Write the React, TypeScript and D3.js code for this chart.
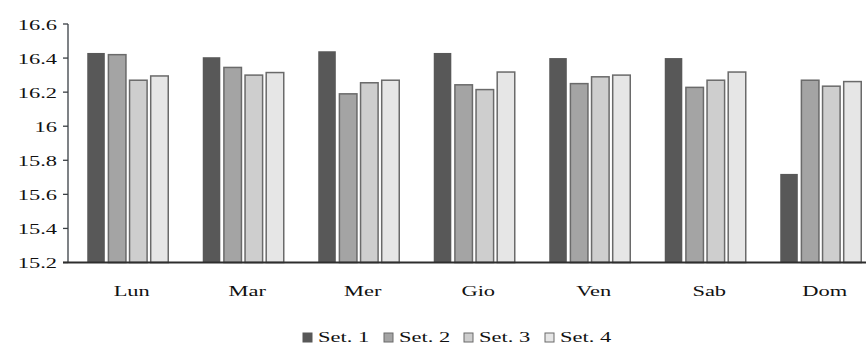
import React from "react";
import * as d3 from "d3";

const days = ["Lun", "Mar", "Mer", "Gio", "Ven", "Sab", "Dom"];
const seriesNames = ["Set. 1", "Set. 2", "Set. 3", "Set. 4"];
const set1 = [16.43, 16.405, 16.44, 16.43, 16.40, 16.40, 15.72];
const set2 = [16.42, 16.345, 16.19, 16.243, 16.25, 16.228, 16.27];
const set3 = [16.27, 16.30, 16.255, 16.215, 16.29, 16.27, 16.235];
const set4 = [16.295, 16.315, 16.27, 16.318, 16.30, 16.318, 16.262];
const yTicks = [15.2, 15.4, 15.6, 15.8, 16, 16.2, 16.4, 16.6];

const seriesValues = [set1, set2, set3, set4];
const fills = ["#585858", "#a4a4a4", "#cecece", "#e6e6e6"];
const strokes = ["none", "#6a6a6a", "#6a6a6a", "#6a6a6a"];

const W = 866;
const H = 347;
const FONT = "'Liberation Serif', 'Times New Roman', serif";
const SX = 1.45;

export default function App() {
  const axisX = 68;
  const x = d3.scaleBand<string>().domain(days).range([70, 70 + 7 * 115.5]);
  const groupW = 81;
  const inner = d3
    .scaleBand<number>()
    .domain([0, 1, 2, 3])
    .range([0, groupW])
    .paddingInner(0.17);
  const y = d3.scaleLinear().domain([15.2, 16.6]).range([262.5, 24]);
  const baseY = y(15.2);

  const legendX = [303, 384, 464, 545];

  return (
    <svg
      width={W}
      height={H}
      style={{ position: "absolute", left: 0, top: 0, background: "#fff" }}
      fontFamily={FONT}
    >
      {/* bars */}
      {days.map((d, i) => {
        const gx = (x(d) as number) + (x.bandwidth() - groupW) / 2;
        return (
          <g key={d}>
            {seriesValues.map((vals, s) => {
              const v = vals[i];
              const yy = y(v);
              return (
                <rect
                  key={s}
                  x={gx + (inner(s) as number)}
                  y={yy}
                  width={inner.bandwidth()}
                  height={baseY - yy}
                  fill={fills[s]}
                  stroke={strokes[s]}
                  strokeWidth={1.5}
                />
              );
            })}
          </g>
        );
      })}

      {/* y axis */}
      <line x1={axisX} x2={axisX} y1={y(16.6)} y2={baseY} stroke="#3a3f44" strokeWidth={1.3} />
      {yTicks.map((t) => (
        <g key={t}>
          <line x1={axisX - 5} x2={axisX} y1={y(t)} y2={y(t)} stroke="#3a3f44" strokeWidth={1.3} />
          <text
            transform={`translate(57,${y(t) + 5.5}) scale(${SX},1)`}
            textAnchor="end"
            fontSize={15.5}
            fill="#111"
          >
            {String(t)}
          </text>
        </g>
      ))}

      {/* x axis */}
      <line x1={axisX - 5} x2={W} y1={baseY} y2={baseY} stroke="#2e2e2e" strokeWidth={2} />
      {days.map((d) => (
        <text
          key={d}
          transform={`translate(${(x(d) as number) + x.bandwidth() / 2 + 4},296) scale(${SX},1)`}
          textAnchor="middle"
          fontSize={15.5}
          fill="#111"
        >
          {d}
        </text>
      ))}

      {/* legend */}
      {seriesNames.map((n, s) => (
        <g key={n}>
          <rect
            x={legendX[s]}
            y={333}
            width={9}
            height={9}
            fill={fills[s]}
            stroke={s === 0 ? fills[0] : "#6a6a6a"}
            strokeWidth={1}
          />
          <text
            transform={`translate(${legendX[s] + 15},342) scale(${SX},1)`}
            fontSize={15.5}
            fill="#111"
          >
            {n}
          </text>
        </g>
      ))}
    </svg>
  );
}
